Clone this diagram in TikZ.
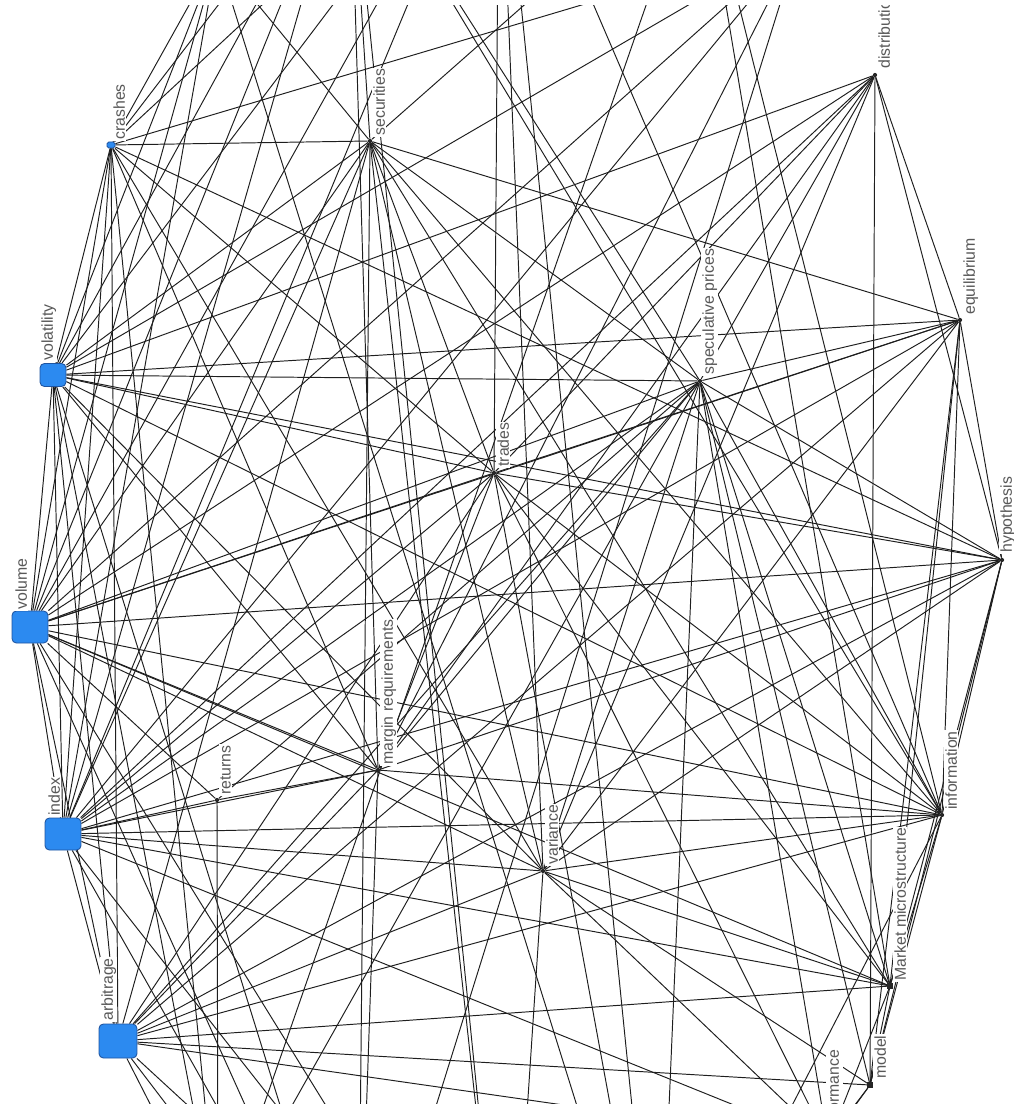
\documentclass[tikz,border=0pt]{standalone}
\usepackage{fontspec}
\setmainfont{Liberation Sans}
\usepackage{tikz}
\usetikzlibrary{backgrounds}
\definecolor{hubblue}{RGB}{44,138,240}
\definecolor{hubrim}{RGB}{30,84,160}
\definecolor{lblgray}{RGB}{88,88,88}
\definecolor{wiregray}{RGB}{30,30,30}

\begin{document}
\begin{tikzpicture}[x=0.02cm,y=-0.02cm,
    hub/.style={draw=hubrim,fill=hubblue,rounded corners=2.5pt,inner sep=0pt,line width=0.5pt},
    term/.style={circle,fill=black!85,inner sep=0pt,minimum size=2.4pt},
    lbl/.style={rotate=90,anchor=north west,fill=white,inner sep=0.6pt,
                text=lblgray,font=\fontsize{9}{10}\selectfont},
    wire/.style={wiregray,line width=0.55pt}]
  \useasboundingbox (0,0) rectangle (1013,1104);
  \begin{scope}
    \clip (0,6) rectangle (1013,1104);
    % left arc
    \node[hub,minimum width=0.16cm,minimum height=0.12cm,rounded corners=1pt] (cr) at (111,145) {};
    \node[hub,minimum width=0.52cm,minimum height=0.46cm] (vt) at (53,375) {};
    \node[hub,minimum width=0.72cm,minimum height=0.64cm] (vo) at (30,627) {};
    \node[hub,minimum width=0.72cm,minimum height=0.64cm] (ix) at (63,834) {};
    \node[hub,minimum width=0.76cm,minimum height=0.68cm] (ar) at (118,1041) {};
    % inner terms
    \node[term] (se) at (370,141) {};
    \node[term] (tr) at (494,473) {};
    \node[term] (mr) at (378,770) {};
    \node[term] (re) at (217,800) {};
    \node[term] (va) at (543,871) {};
    \node[term] (sp) at (700,381) {};
    % right arc
    \node[term] (di) at (875,75) {};
    \node[term] (eq) at (960,320) {};
    \node[term] (hy) at (1002,560) {};
    \node[term] (inf) at (942,815) {};
    \node[term,rectangle,minimum size=3pt] (mm) at (890,986) {};
    \node[term,rectangle,minimum size=3pt] (mo) at (870,1085) {};
    \node[term] (pf) at (828,1143) {};
    % off-page ends
    \coordinate (t1) at (217,-45);
    \coordinate (t2) at (350,-167);
    \coordinate (t3) at (499,-215);
    \coordinate (t4) at (700,-150);
    \coordinate (t5) at (800,-60);
    \coordinate (b1) at (218,1237);
    \coordinate (b2) at (358,1356);
    \coordinate (b3) at (508,1400);
    \coordinate (b4) at (658,1365);
    % labels
    \node[lbl] (crL) at (112,141) {crashes};
    \node[lbl] (vtL) at (40,362) {volatility};
    \node[lbl] (voL) at (14,611) {volume};
    \node[lbl] (ixL) at (47,817) {index};
    \node[lbl] (arL) at (100,1022) {arbitrage};
    \node[lbl] (seL) at (372,137) {securities};
    \node[lbl] (trL) at (496,468) {trades};
    \node[lbl] (mrL) at (380,766) {margin requirements};
    \node[lbl] (reL) at (219,796) {returns};
    \node[lbl] (vaL) at (545,866) {variance};
    \node[lbl] (spL) at (701,376) {speculative prices};
    \node[lbl] (diL) at (877,70) {distribution};
    \node[lbl] (eqL) at (962,316) {equilibrium};
    \node[lbl] (hyL) at (999,554) {hypothesis};
    \node[lbl] (infL) at (944,811) {information};
    \node[lbl] (mmL) at (893,982) {Market microstructure};
    \node[lbl] (moL) at (873,1080) {model};
    \node[lbl] (pfL) at (826,1140) {performance};
  \end{scope}
  \begin{pgfonlayer}{background}
  \begin{scope}
    \clip (0,6) rectangle (1013,1104);
    \draw[wire] (vo) edge (vt) edge (ix) edge (cr) edge (se) edge (tr) edge (sp) edge (hy) edge (eq)
      edge (inf) edge (mm) edge (mr) edge (va) edge (di) edge (t1) edge (t2) edge (t3) edge (b2)
      edge (b3) edge (ar) edge (re) edge (t5);
    \draw[wire] (ix) edge (vt) edge (cr) edge (ar) edge (se) edge (tr) edge (sp) edge (inf) edge (mm)
      edge (va) edge (mr) edge (re) edge (eq) edge (hy) edge (pf) edge (t1) edge (t2) edge (t3)
      edge (b2) edge (b3) edge (di) edge (t5);
    \draw[wire] (vt) edge (cr) edge (se) edge (tr) edge (sp) edge (eq) edge (hy) edge (inf) edge (mr)
      edge (va) edge (t1) edge (t2) edge (t3) edge (b1) edge (b2) edge (ar) edge (di) edge (t5);
    \draw[wire] (ar) edge (cr) edge (mr) edge (va) edge (sp) edge (tr) edge (inf) edge (mm) edge (pf)
      edge (mo) edge (b1) edge (b2) edge (b3) edge (se) edge (eq) edge (hy);
    \draw[wire] (cr) edge (se) edge (hy) edge (tr) edge (t1) edge (t2) edge (t3) edge (t5) edge (b1)
      edge (mr) edge (va);
    \draw[wire] (se) edge (mm) edge (inf) edge (tr) edge (va) edge (t1) edge (t2) edge (t4) edge (eq)
      edge (sp) edge (b2) edge (b3);
    \draw[wire] (tr) edge (eq) edge (hy) edge (di) edge (t3) edge (inf) edge (mm) edge (mr) edge (pf) edge (b4);
    \draw[wire] (mr) edge (sp) edge (inf) edge (hy) edge (b2) edge (t2) edge (di) edge (re) edge (t5);
    \draw[wire] (re) edge (b1) edge (sp);
    \draw[wire] (va) edge (inf) edge (sp) edge (di) edge (eq) edge (mm) edge (pf) edge (b3) edge (t3)
      edge (hy) edge (mo);
    \draw[wire] (sp) edge (eq) edge (hy) edge (inf) edge (mm) edge (mo) edge (di) edge (t2) edge (b1)
      edge (b4) edge (pf);
    \draw[wire] (di) edge (mo) edge (eq) edge (hy);
    \draw[wire] (eq) edge (inf) edge (mm) edge (hy) edge (mo);
    \draw[wire] (hy) edge (inf) edge (mm) edge (mo);
    \draw[wire] (inf) edge (mm) edge (mo) edge (t4) edge (b4) edge (t3) edge (t2);
    \draw[wire] (mm) edge (mo) edge (t4) edge (pf);
    \draw[wire] (mo) edge (pf) edge (b4);
    \draw[wire] (t2) edge (b3) (t3) edge (b4) (t1) edge (b4) (t5) edge (b2) (t4) edge (b1);
  \end{scope}
  \end{pgfonlayer}
\end{tikzpicture}
\end{document}
